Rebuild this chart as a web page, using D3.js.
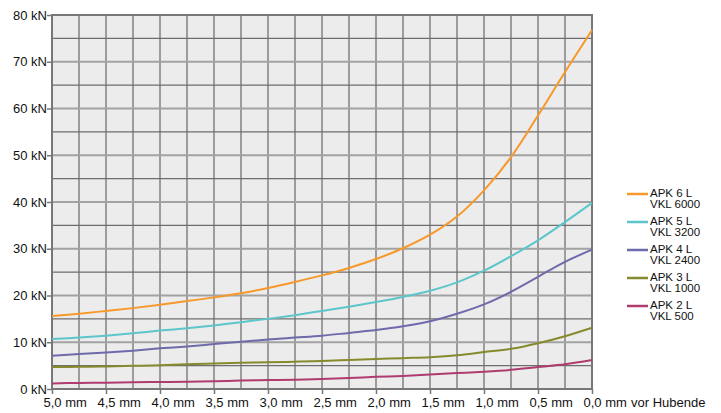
<!DOCTYPE html>
<html>
<head>
<meta charset="utf-8">
<script src="https://cdn.jsdelivr.net/npm/d3@7"></script>
<style>
  body { margin: 0; background: #fff; }
  text { font-family: "Liberation Sans", "DejaVu Sans", sans-serif; fill: #111; }
</style>
</head>
<body>
<div id="chart"></div>
<script>
/* data: mm before stroke end, force in kN */
var mm = [5.0, 4.75, 4.5, 4.25, 4.0, 3.75, 3.5, 3.25, 3.0, 2.75, 2.5, 2.25, 2.0, 1.75, 1.5, 1.25, 1.0, 0.75, 0.5, 0.25, 0.0];
var apk6 = [15.6, 16.1, 16.7, 17.3, 18.0, 18.8, 19.6, 20.5, 21.6, 22.9, 24.3, 25.9, 27.8, 30.1, 33.0, 36.9, 42.5, 49.6, 58.5, 67.8, 76.8];
var apk5 = [10.7, 11.0, 11.4, 11.9, 12.5, 13.0, 13.6, 14.3, 15.0, 15.8, 16.7, 17.6, 18.6, 19.7, 21.0, 22.8, 25.3, 28.4, 31.8, 35.7, 39.8];
var apk4 = [7.1, 7.5, 7.8, 8.2, 8.7, 9.1, 9.6, 10.1, 10.6, 11.0, 11.4, 12.0, 12.6, 13.4, 14.5, 16.1, 18.1, 20.8, 24.0, 27.2, 29.8];
var apk3 = [4.7, 4.75, 4.8, 4.95, 5.1, 5.3, 5.45, 5.6, 5.7, 5.85, 6.0, 6.2, 6.4, 6.6, 6.8, 7.2, 7.9, 8.6, 9.8, 11.3, 13.1];
var apk2 = [1.2, 1.3, 1.35, 1.45, 1.5, 1.55, 1.65, 1.8, 1.9, 2.0, 2.15, 2.35, 2.6, 2.8, 3.1, 3.4, 3.7, 4.1, 4.7, 5.3, 6.2];

var seriesNames = [["APK 6 L", "VKL 6000"], ["APK 5 L", "VKL 3200"], ["APK 4 L", "VKL 2400"], ["APK 3 L", "VKL 1000"], ["APK 2 L", "VKL 500"]];
var seriesValues = [apk6, apk5, apk4, apk3, apk2];
var colors = ["#f7982a", "#5cc6cb", "#6f6aab", "#878a2c", "#ae3c70"];

var xTicks = [5.0, 4.5, 4.0, 3.5, 3.0, 2.5, 2.0, 1.5, 1.0, 0.5, 0.0];
var yTicks = [0, 10, 20, 30, 40, 50, 60, 70, 80];

var margin = { top: 15, left: 52 };
var width = 540, height = 374;

var svg = d3.select("#chart").append("svg")
    .attr("width", 721)
    .attr("height", 413);

var chart = svg.append("g")
    .attr("transform", "translate(" + margin.left + "," + margin.top + ")");

var x = d3.scaleLinear().domain([5, 0]).range([0, width]);
var y = d3.scaleLinear().domain([0, 80]).range([height, 0]);

/* plot background */
chart.append("rect")
    .attr("width", width).attr("height", height)
    .attr("fill", "#ececec");

/* vertical grid every 0.25 mm */
chart.selectAll(".vgrid").data(d3.range(1, 20))
    .enter().append("line")
    .attr("x1", function(d) { return x(5 - d * 0.25); })
    .attr("x2", function(d) { return x(5 - d * 0.25); })
    .attr("y1", 0).attr("y2", height)
    .attr("stroke", "#9c9c9c").attr("stroke-width", 2);

/* horizontal grid: 5 kN dark thin, 10 kN lighter and wider */
chart.selectAll(".hgrid").data(d3.range(1, 16))
    .enter().append("line")
    .attr("x1", 0).attr("x2", width)
    .attr("y1", function(d) { return y(d * 5); })
    .attr("y2", function(d) { return y(d * 5); })
    .attr("stroke", function(d) { return d % 2 === 0 ? "#a2a2a2" : "#6e6e6e"; })
    .attr("stroke-width", function(d) { return d % 2 === 0 ? 2 : 1.4; });

/* frame */
chart.append("rect")
    .attr("width", width).attr("height", height)
    .attr("fill", "none")
    .attr("stroke", "#777").attr("stroke-width", 2);

/* y axis */
var yAxis = d3.axisLeft(y).tickValues(yTicks).tickSize(5)
    .tickFormat(function(d) { return d + " kN"; });
var gy = chart.append("g").call(yAxis);
gy.select(".domain").remove();
gy.selectAll("line").attr("stroke", "#777").attr("stroke-width", 1.5);
gy.selectAll("text").attr("font-size", 13).attr("x", -5).attr("fill", "#111");

/* x axis */
var xAxis = d3.axisBottom(x).tickValues(xTicks).tickSize(5)
    .tickFormat(function(d) { return d3.format(".1f")(d).replace(".", ",") + " mm"; });
var gx = chart.append("g")
    .attr("transform", "translate(0," + height + ")")
    .call(xAxis);
gx.select(".domain").remove();
gx.selectAll("line").attr("stroke", "#777").attr("stroke-width", 1.5);
gx.selectAll("text")
    .attr("font-size", 13)
    .attr("text-anchor", "start")
    .attr("x", -9).attr("y", 9)
    .attr("fill", "#111");

chart.append("text")
    .attr("x", width + 39).attr("y", height + 18)
    .attr("font-size", 13)
    .text("vor Hubende");

/* lines */
var line = d3.line()
    .curve(d3.curveCatmullRom)
    .x(function(d, i) { return x(mm[i]); })
    .y(function(d) { return y(d); });

chart.selectAll(".series").data(seriesValues)
    .enter().append("path")
    .attr("fill", "none")
    .attr("stroke", function(d, i) { return colors[i]; })
    .attr("stroke-width", 2)
    .attr("d", line);

/* legend */
var legend = svg.append("g").attr("transform", "translate(627,194)");
var item = legend.selectAll("g").data(seriesNames)
    .enter().append("g")
    .attr("transform", function(d, i) { return "translate(0," + i * 28 + ")"; });
item.append("line")
    .attr("x1", 0).attr("x2", 21)
    .attr("stroke", function(d, i) { return colors[i]; })
    .attr("stroke-width", 2.5);
item.append("text")
    .attr("x", 23).attr("y", 3)
    .attr("font-size", 11.5)
    .text(function(d) { return d[0]; });
item.append("text")
    .attr("x", 23).attr("y", 14)
    .attr("font-size", 11.5)
    .text(function(d) { return d[1]; });
</script>
</body>
</html>
